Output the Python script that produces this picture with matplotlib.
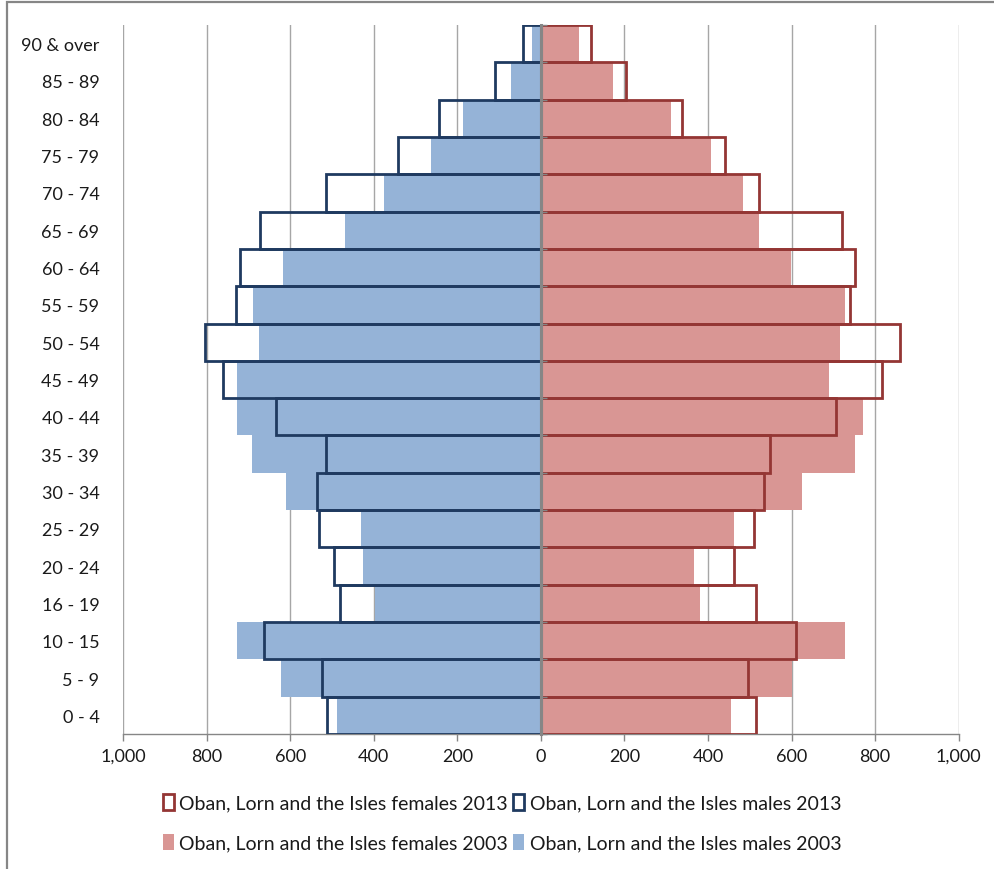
import matplotlib
matplotlib.use("Agg")
import matplotlib.pyplot as plt
from matplotlib.patches import Rectangle, Patch
from matplotlib.ticker import FuncFormatter

# Age bands, youngest at the bottom
age_groups = ["0 - 4", "5 - 9", "10 - 15", "16 - 19", "20 - 24", "25 - 29",
              "30 - 34", "35 - 39", "40 - 44", "45 - 49", "50 - 54", "55 - 59",
              "60 - 64", "65 - 69", "70 - 74", "75 - 79", "80 - 84", "85 - 89",
              "90 & over"]

males_2003 = [488, 622, 726, 397, 425, 430, 610, 692, 726, 726, 674, 688,
              617, 468, 375, 263, 187, 72, 22]
males_2013 = [511, 523, 662, 480, 496, 531, 536, 515, 634, 760, 804, 730,
              721, 672, 515, 341, 243, 109, 43]
females_2003 = [455, 602, 729, 381, 366, 462, 626, 751, 770, 689, 717, 727,
                599, 523, 484, 407, 312, 173, 92]
females_2013 = [514, 495, 610, 515, 463, 511, 533, 549, 706, 816, 859, 739,
                751, 721, 523, 441, 337, 203, 121]

x_ticks = [-1000, -800, -600, -400, -200, 0, 200, 400, 600, 800, 1000]

area = "Oban, Lorn and the Isles"
labels = [f"{area} females 2013", f"{area} females 2003",
          f"{area} males 2013", f"{area} males 2003"]

BLUE_FILL = "#95B3D7"
PINK_FILL = "#D99694"
NAVY = "#1F3A60"
DARK_RED = "#943634"
AXIS_GREY = "#868686"
GRID_GREY = "#A6A6A6"

plt.rcParams["font.family"] = ["Lato", "DejaVu Sans"]
plt.rcParams["font.size"] = 13

W, H = 995, 870
fig = plt.figure(figsize=(W / 100, H / 100), dpi=100)
ax = fig.add_axes([123 / W, 1 - 735 / H, (958.7 - 123) / W, (735 - 26) / H])

y = list(range(len(age_groups)))
neg_m03 = [-v for v in males_2003]
neg_m13 = [-v for v in males_2013]

# 2003 populations as solid bars
ax.barh(y, neg_m03, height=1.0, color=BLUE_FILL, zorder=2)
ax.barh(y, females_2003, height=1.0, color=PINK_FILL, zorder=2)
# 2013 populations as outlines on top
ax.barh(y, neg_m13, height=1.0, facecolor="none", edgecolor=NAVY,
        linewidth=2.0, zorder=3)
ax.barh(y, females_2013, height=1.0, facecolor="none", edgecolor=DARK_RED,
        linewidth=2.0, zorder=3)

ax.set_xlim(-1000, 1000)
ax.set_ylim(-0.5, len(age_groups) - 0.5)
ax.set_xticks(x_ticks)
ax.xaxis.set_major_formatter(FuncFormatter(lambda v, p: f"{abs(int(v)):,}"))
ax.set_yticks(y)
ax.set_yticklabels(age_groups)

ax.xaxis.grid(True, color=GRID_GREY, linewidth=1.0, zorder=0)
ax.set_axisbelow(True)

for side in ("left", "right", "top"):
    ax.spines[side].set_visible(False)
ax.spines["bottom"].set_color(AXIS_GREY)
ax.spines["bottom"].set_linewidth(1.0)
ax.tick_params(axis="x", direction="out", length=5, width=1, color=AXIS_GREY,
               labelcolor="#1a1a1a", pad=5, labelsize=13)
ax.tick_params(axis="y", length=0, pad=17, labelcolor="#1a1a1a", labelsize=13)

# Small category-boundary ticks on the central axis
centre = ax.secondary_yaxis(0.5)
centre.set_yticks([i - 0.5 for i in range(len(age_groups) + 1)])
centre.set_yticklabels([])
centre.tick_params(axis="y", direction="out", length=4, width=1, color=AXIS_GREY)
for sp in centre.spines.values():
    sp.set_color(AXIS_GREY)
    sp.set_linewidth(2.2)
centre.set_zorder(5)

# Central vertical axis line drawn over the bars
ax.axvline(0, color=AXIS_GREY, linewidth=2.2, zorder=6)

# Legend below the plot
handles = [
    Patch(facecolor="white", edgecolor=DARK_RED, linewidth=2.0),
    Patch(facecolor=PINK_FILL, edgecolor=PINK_FILL, linewidth=0),
    Patch(facecolor="white", edgecolor=NAVY, linewidth=2.0),
    Patch(facecolor=BLUE_FILL, edgecolor=BLUE_FILL, linewidth=0),
]
fig.legend(handles, labels, ncol=2, loc="center",
           bbox_to_anchor=(502 / W, 1 - 824 / H), frameon=False,
           handlelength=0.55, handleheight=0.85, handletextpad=0.3,
           columnspacing=0.25, labelspacing=1.15, fontsize=14,
           labelcolor="#1a1a1a")

# Chart frame, running off the right and bottom edges
fig.add_artist(Rectangle((7 / W, -0.1), 1.2, 1 - 3 / H + 0.1,
                         transform=fig.transFigure, fill=False,
                         edgecolor=AXIS_GREY, linewidth=1.6, clip_on=False))

fig.savefig("out.png", dpi=100)
